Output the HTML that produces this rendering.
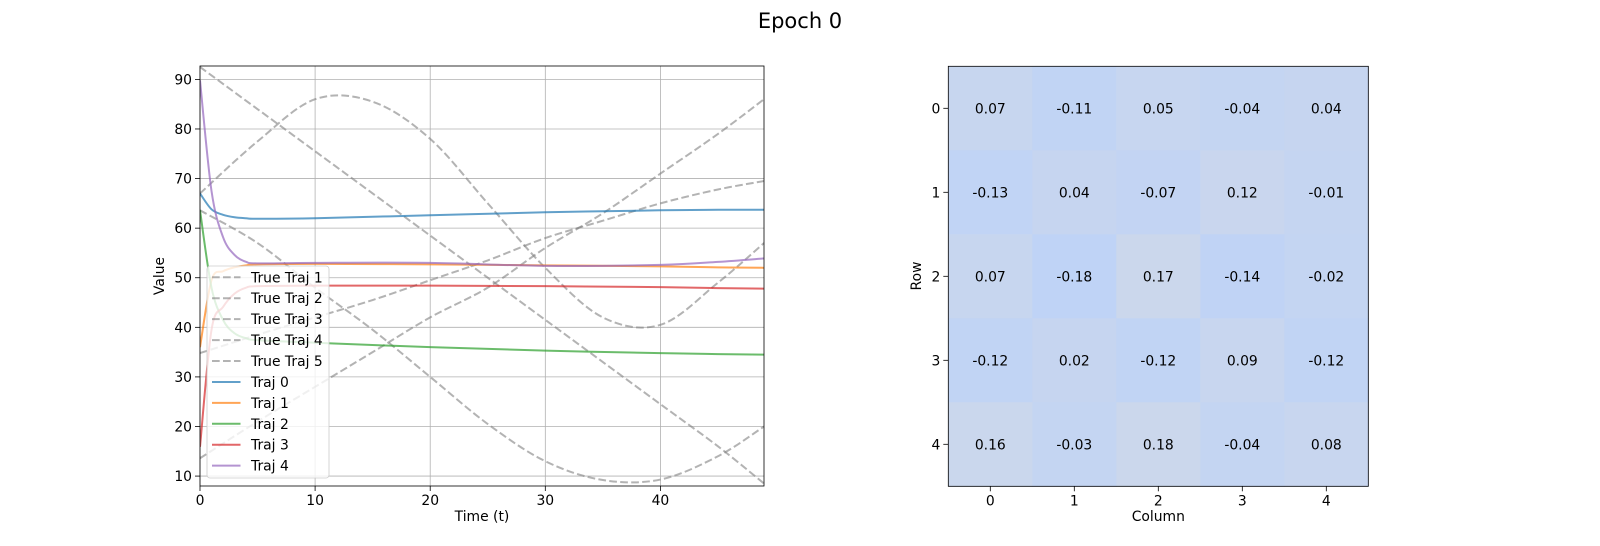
<!DOCTYPE html>
<html><head><meta charset="utf-8"><style>
body{margin:0;background:#fff;}
svg{display:block;font-family:"DejaVu Sans","Liberation Sans",sans-serif;}
</style></head><body>
<svg id="fig" width="1600" height="546" viewBox="0 0 1600 546">
<text x="800" y="28" text-anchor="middle" font-size="21">Epoch 0</text>
<g id="left"></g>
<g id="right"></g>
</svg>
<script>
// ---- line chart data ----
const tTrue = [0,5,10,15,20,25,30,35,40,45,49];
const true1 = [92.5,84,75.5,67,58.5,50,41.5,33,24.5,16,8.5];
const true2 = [67,77.5,86,85.5,78,65,52,42,40.5,49,57];
const true3 = [13.6,21,28,35,42,48,56,63,71,79,86];
const true4 = [63.6,57,48,39.5,30,20.5,13,9.2,9.3,14,20];
const true5 = [34.8,38.5,42,45.5,49.5,53.5,58,61.5,65,67.8,69.5];
const tModel = [0,1,2,3,4,5,10,20,30,40,45,49];
const traj0 = [67,63.8,62.7,62.2,62,61.9,62,62.6,63.2,63.6,63.7,63.7];
const traj1 = [36,49.5,51.3,52.1,52.5,52.7,52.8,52.7,52.5,52.3,52.1,52];
const traj2 = [63.6,48,41.5,38.8,37.8,37.4,36.9,36,35.3,34.8,34.6,34.5];
const traj3 = [15.9,39.5,44.1,46.8,48,48.3,48.4,48.4,48.3,48.1,47.9,47.8];
const traj4 = [89.8,67.5,58.2,54.6,53.2,52.9,53,53,52.4,52.6,53.2,53.9];
const xTicks = [0,10,20,30,40];
const yTicks = [10,20,30,40,50,60,70,80,90];
// ---- heatmap data ----
const rowLabels = [0,1,2,3,4];
const colLabels = [0,1,2,3,4];
const weights = [
 [0.07,-0.11,0.05,-0.04,0.04],
 [-0.13,0.04,-0.07,0.12,-0.01],
 [0.07,-0.18,0.17,-0.14,-0.02],
 [-0.12,0.02,-0.12,0.09,-0.12],
 [0.16,-0.03,0.18,-0.04,0.08]
];

const NS="http://www.w3.org/2000/svg";
function mk(tag,attrs,parent){const e=document.createElementNS(NS,tag);for(const k in attrs)e.setAttribute(k,attrs[k]);parent.appendChild(e);return e;}

const L=document.getElementById('left');
const X0=200,X1=764,Y0=66,Y1=486,xmin=0,xmax=49,ymin=8,ymax=92.7;
const sx=v=>X0+(v-xmin)/(xmax-xmin)*(X1-X0);
const sy=v=>Y1-(v-ymin)/(ymax-ymin)*(Y1-Y0);
mk('defs',{},L).innerHTML='<clipPath id="cp"><rect x="200" y="66" width="564" height="420"/></clipPath>';
xTicks.forEach(t=>{
 const g=mk('line',{x1:sx(t),x2:sx(t),y1:Y0,y2:Y1,stroke:'#b0b0b0','stroke-width':0.8},L);
 
 
 mk('line',{x1:sx(t),x2:sx(t),y1:Y1,y2:Y1+5,stroke:'#000','stroke-width':0.8},L);
 const tx=mk('text',{x:sx(t),y:Y1+19,'text-anchor':'middle','font-size':13.9},L);tx.textContent=t;
 
 
});
yTicks.forEach(t=>{
 const g=mk('line',{x1:X0,x2:X1,y1:sy(t),y2:sy(t),stroke:'#b0b0b0','stroke-width':0.8},L);
 
 
 mk('line',{x1:X0-5,x2:X0,y1:sy(t),y2:sy(t),stroke:'#000','stroke-width':0.8},L);
 const tx=mk('text',{x:X0-8,y:sy(t)+5,'text-anchor':'end','font-size':13.9},L);tx.textContent=t;
 
 
});
function smooth(ts,vs){
 const p=ts.map((t,i)=>[sx(t),sy(vs[i])]);let d='M'+p[0][0]+' '+p[0][1];
 for(let i=0;i<p.length-1;i++){const a=p[i-1]||p[i],b=p[i],c=p[i+1],e=p[i+2]||c;
  d+=' C'+(b[0]+(c[0]-a[0])/6)+' '+(b[1]+(c[1]-a[1])/6)+' '+(c[0]-(e[0]-b[0])/6)+' '+(c[1]-(e[1]-b[1])/6)+' '+c[0]+' '+c[1];}
 return d;}
const trues=[true1,true2,true3,true4,true5];
trues.forEach((s,i)=>{
 const p=mk('path',{d:smooth(tTrue,s),fill:'none',stroke:'#808080','stroke-opacity':0.6,'stroke-width':2,'stroke-dasharray':'7.7 3.3','clip-path':'url(#cp)'},L);
 
 
});
const colors=['#1f77b4','#ff7f0e','#2ca02c','#d62728','#9467bd'];
const models=[traj0,traj1,traj2,traj3,traj4];
models.forEach((s,i)=>{
 const p=mk('path',{d:smooth(tModel,s),fill:'none',stroke:colors[i],'stroke-opacity':0.7,'stroke-width':2,'clip-path':'url(#cp)'},L);
 
 
});
mk('rect',{x:X0,y:Y0,width:X1-X0,height:Y1-Y0,fill:'none',stroke:'#000','stroke-width':0.8},L);
const lg=mk('g',{},L);


mk('rect',{x:207,y:266,width:122,height:212,rx:3,fill:'#fff','fill-opacity':0.8,stroke:'#cccccc','stroke-width':0.8},lg);
const labels=['True Traj 1','True Traj 2','True Traj 3','True Traj 4','True Traj 5','Traj 0','Traj 1','Traj 2','Traj 3','Traj 4'];
labels.forEach((lab,i)=>{
 const y=277.3+i*20.93;
 const e=mk('g',{},lg);
 
 
 if(i<5) mk('line',{x1:212,x2:240.5,y1:y,y2:y,stroke:'#808080','stroke-opacity':0.6,'stroke-width':2,'stroke-dasharray':'7.7 3.3'},e);
 else mk('line',{x1:212,x2:240.5,y1:y,y2:y,stroke:colors[i-5],'stroke-opacity':0.7,'stroke-width':2},e);
 const t=mk('text',{x:251,y:y+5,'font-size':13.9},e);t.textContent=lab;
});
const xl=mk('text',{x:482,y:521,'text-anchor':'middle','font-size':13.9},L);xl.textContent='Time (t)';


const yl=mk('text',{x:0,y:0,'text-anchor':'middle','font-size':13.9,transform:'translate(164,276) rotate(-90)'},L);yl.textContent='Value';



const R=document.getElementById('right');
const HX=948.3,HY=66.3,C=84;
function col(v){const f=(v+0.18)/0.36;const a=[191,211,246],b=[203,215,236];
 return 'rgb('+a.map((x,i)=>Math.round(x+(b[i]-x)*f)).join(',')+')';}
weights.forEach((row,r)=>row.forEach((v,c)=>{
 const rc=mk('rect',{x:HX+c*C,y:HY+r*C,width:C+0.5,height:C+0.5,fill:col(v)},R);
 
 
 const t=mk('text',{x:HX+c*C+C/2,y:HY+r*C+C/2+5,'text-anchor':'middle','font-size':13.9},R);
 t.textContent=v.toFixed(2);
 
 
}));
mk('rect',{x:HX,y:HY,width:5*C,height:5*C,fill:'none',stroke:'#000','stroke-width':0.8},R);
rowLabels.forEach((l,i)=>{
 const y=HY+i*C+C/2;
 mk('line',{x1:HX-5,x2:HX,y1:y,y2:y,stroke:'#000','stroke-width':0.8},R);
 const t=mk('text',{x:HX-8,y:y+5,'text-anchor':'end','font-size':13.9},R);t.textContent=l;
 
 
});
colLabels.forEach((l,i)=>{
 const x=HX+i*C+C/2;
 mk('line',{x1:x,x2:x,y1:HY+5*C,y2:HY+5*C+5,stroke:'#000','stroke-width':0.8},R);
 const t=mk('text',{x:x,y:HY+5*C+19,'text-anchor':'middle','font-size':13.9},R);t.textContent=l;
 
 
});
const cl=mk('text',{x:HX+2.5*C,y:521,'text-anchor':'middle','font-size':13.9},R);cl.textContent='Column';


const rl=mk('text',{x:0,y:0,'text-anchor':'middle','font-size':13.9,transform:'translate(921,276) rotate(-90)'},R);rl.textContent='Row';


</script>
</body></html>
